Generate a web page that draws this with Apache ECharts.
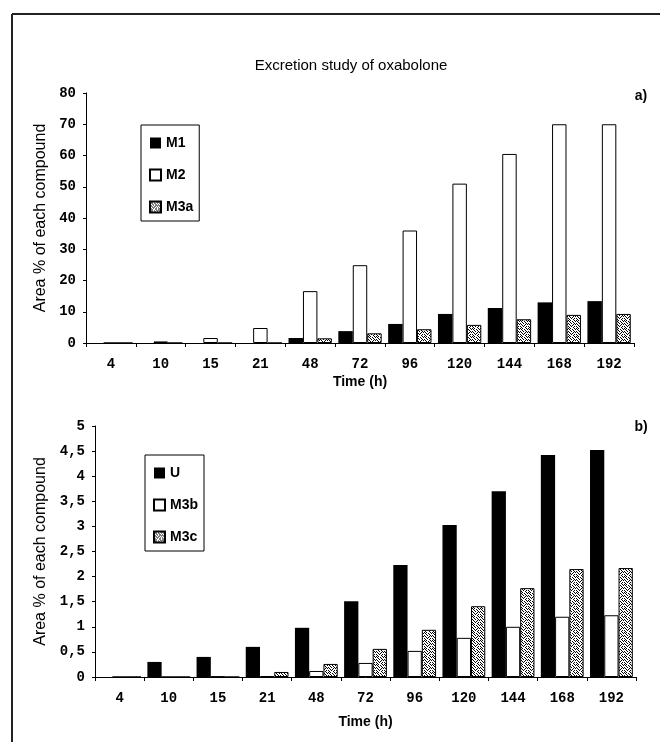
<!DOCTYPE html>
<html>
<head>
<meta charset="utf-8">
<title>Excretion study of oxabolone</title>
<script src="https://cdn.jsdelivr.net/npm/echarts@6/dist/echarts.min.js"></script>
<style>
html,body{margin:0;padding:0;background:#fff;}
#chart{width:660px;height:742px;}
</style>
</head>
<body>
<div id="chart"></div>
<script>
// sampling times
var hours = ['4', '10', '15', '21', '48', '72', '96', '120', '144', '168', '192'];
// a) area % per compound
var m1  = [0, 0, 0, 0, 1.6, 3.8, 6.1, 9.3, 11.2, 13, 13.4];
var m2  = [0, 0.5, 1.6, 4.8, 16.6, 24.9, 36, 51, 60.5, 70, 70];
var m3a = [0, 0, 0, 0, 1.5, 3.1, 4.4, 5.8, 7.6, 9, 9.3];
// b) area % per compound
var u   = [0, 0.3, 0.4, 0.6, 0.98, 1.51, 2.23, 3.03, 3.7, 4.42, 4.52];
var m3b = [0, 0, 0.01, 0.02, 0.12, 0.28, 0.52, 0.78, 1.0, 1.2, 1.23];
var m3c = [0, 0, 0, 0.1, 0.26, 0.56, 0.94, 1.41, 1.77, 2.15, 2.17];

// speckled fill like the scanned hatch
var mask = [
  '10100010',
  '01001001',
  '00100100',
  '10010010',
  '01000101',
  '00101000',
  '10010010',
  '01000100'
];
var cv = document.createElement('canvas');
cv.width = 8; cv.height = 8;
var ctx = cv.getContext('2d');
ctx.fillStyle = '#fff';
ctx.fillRect(0, 0, 8, 8);
ctx.fillStyle = '#000';
mask.forEach(function (row, y) {
  for (var x = 0; x < row.length; x++) {
    if (row[x] === '1') ctx.fillRect(x, y, 1, 1);
  }
});
var speckle = { image: cv, repeat: 'repeat' };

var tickFont = { fontFamily: 'Liberation Mono', fontSize: 14, fontWeight: 'bold', color: '#000' };
var nameFont = { fontFamily: 'Liberation Sans', fontSize: 16, color: '#000' };
var axisLine = { show: true, lineStyle: { color: '#000', width: 1 } };

function xAx(idx, gap) {
  return {
    type: 'category', gridIndex: idx, data: hours,
    name: 'Time (h)', nameLocation: 'middle', nameGap: gap,
    nameTextStyle: { fontFamily: 'Liberation Sans', fontSize: 14, fontWeight: 'bold', color: '#000' },
    axisLine: axisLine,
    axisTick: { show: true, length: 4, lineStyle: { color: '#000' } },
    axisLabel: Object.assign({ margin: 14 }, tickFont),
    splitLine: { show: false }
  };
}
function yAx(idx, max, step, gap, fmt) {
  return {
    type: 'value', gridIndex: idx, min: 0, max: max, interval: step,
    name: 'Area % of each compound', nameLocation: 'middle', nameGap: gap,
    nameTextStyle: nameFont,
    axisLine: axisLine,
    axisTick: { show: true, length: 3, lineStyle: { color: '#000' } },
    axisLabel: Object.assign({ margin: 10, formatter: fmt }, tickFont),
    splitLine: { show: false }
  };
}
function bar(name, idx, data, style) {
  return {
    name: name, type: 'bar', xAxisIndex: idx, yAxisIndex: idx, data: data,
    barGap: '0%', barCategoryGap: '13%',
    itemStyle: style
  };
}
var legendBase = {
  orient: 'vertical', icon: 'rect', itemWidth: 11, itemHeight: 11,
  itemGap: 18, borderColor: '#000', borderWidth: 1,
  textStyle: { fontFamily: 'Liberation Sans', fontSize: 14, fontWeight: 'bold', color: '#000' }
};

var chart = echarts.init(document.getElementById('chart'));
chart.setOption({
  backgroundColor: '#fff',
  animation: false,
  title: [
    { text: 'Excretion study of oxabolone', left: 346, top: 53, textAlign: 'center',
      textStyle: { fontFamily: 'Liberation Sans', fontSize: 15, fontWeight: 'normal', color: '#000' } },
    { text: 'a)', left: 636, top: 84, textAlign: 'center',
      textStyle: { fontFamily: 'Liberation Sans', fontSize: 14, fontWeight: 'bold', color: '#000' } },
    { text: 'b)', left: 636, top: 415, textAlign: 'center',
      textStyle: { fontFamily: 'Liberation Sans', fontSize: 14, fontWeight: 'bold', color: '#000' } }
  ],
  legend: [
    Object.assign({ data: ['M1', 'M2', 'M3a'], left: 141, top: 125, padding: [11, 6, 7, 8] }, legendBase),
    Object.assign({ data: ['U', 'M3b', 'M3c'], left: 145, top: 455, padding: [11, 6, 7, 8] }, legendBase)
  ],
  grid: [
    { left: 86, right: 26, top: 93, height: 250 },
    { left: 95, right: 24, top: 426, height: 251 }
  ],
  xAxis: [xAx(0, 32), xAx(1, 38)],
  yAxis: [
    yAx(0, 80, 10, 37),
    yAx(1, 5, 0.5, 46, function (v) { return String(v).replace('.', ','); })
  ],
  series: [
    bar('M1', 0, m1, { color: '#000' }),
    bar('M2', 0, m2, { color: '#fff', borderColor: '#000', borderWidth: 1 }),
    bar('M3a', 0, m3a, { color: speckle, borderColor: '#000', borderWidth: 1 }),
    bar('U', 1, u, { color: '#000' }),
    bar('M3b', 1, m3b, { color: '#fff', borderColor: '#000', borderWidth: 1 }),
    bar('M3c', 1, m3c, { color: speckle, borderColor: '#000', borderWidth: 1 })
  ],
  graphic: [
    { type: 'line', shape: { x1: 12, y1: 14, x2: 660, y2: 14 }, style: { stroke: '#222', lineWidth: 2 } },
    { type: 'line', shape: { x1: 12, y1: 14, x2: 12, y2: 742 }, style: { stroke: '#222', lineWidth: 2 } }
  ]
});
</script>
</body>
</html>
